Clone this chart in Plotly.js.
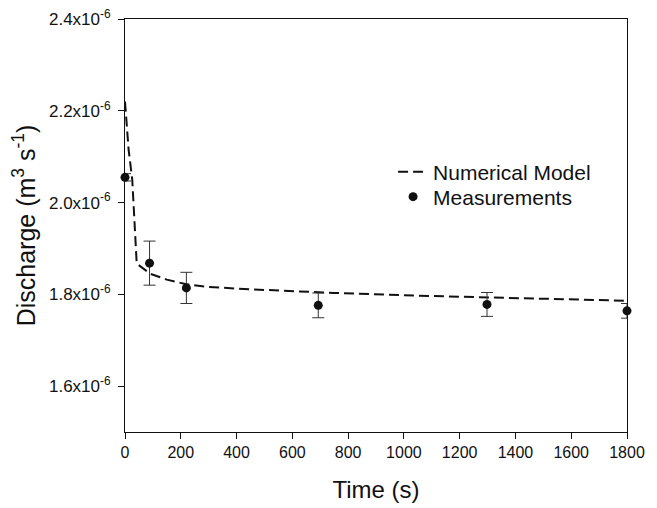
<!DOCTYPE html>
<html>
<head>
<meta charset="utf-8">
<script src="https://cdn.plot.ly/plotly-3.0.1.min.js"></script>
<style>html,body{margin:0;padding:0;background:#fff;}#chart{width:657px;height:508px;}</style>
</head>
<body>
<div id="chart"></div>
<script>
// Numerical model curve (time s, discharge m^3/s)
var modelTime = [0, 13, 26, 42, 90, 150, 220, 300, 450, 750, 1050, 1350, 1800];
var modelQ = [2.220e-6, 2.115e-6, 2.050e-6, 1.867e-6, 1.845e-6, 1.832e-6, 1.822e-6, 1.816e-6, 1.811e-6, 1.803e-6, 1.797e-6, 1.792e-6, 1.786e-6];

// Measurements with error bars
var measTime = [0, 88, 220, 693, 1298, 1800];
var measQ = [2.055e-6, 1.868e-6, 1.814e-6, 1.776e-6, 1.778e-6, 1.764e-6];
var measErr = [0.008e-6, 0.048e-6, 0.034e-6, 0.027e-6, 0.026e-6, 0.016e-6];

// Axis ticks
var xTickVals = [0, 200, 400, 600, 800, 1000, 1200, 1400, 1600, 1800];
var yTickVals = [1.6e-6, 1.8e-6, 2.0e-6, 2.2e-6, 2.4e-6];
var yTickText = ['1.6x10<sup>-6</sup>', '1.8x10<sup>-6</sup>', '2.0x10<sup>-6</sup>', '2.2x10<sup>-6</sup>', '2.4x10<sup>-6</sup>'];

var font = 'Liberation Sans, Arial, sans-serif';

var traces = [
  {
    x: modelTime, y: modelQ, type: 'scatter', mode: 'lines',
    name: 'Numerical Model', legend: 'legend',
    line: {color: '#111', width: 2, dash: '10px,5px'},
    cliponaxis: false
  },
  {
    x: measTime, y: measQ, type: 'scatter', mode: 'markers',
    name: 'Measurements', legend: 'legend2',
    marker: {color: '#111', size: 9},
    error_y: {type: 'data', array: measErr, visible: true, color: '#333', thickness: 1, width: 6},
    cliponaxis: false
  }
];

var legendFont = {family: font, size: 21, color: '#111'};

var layout = {
  width: 657, height: 508,
  margin: {l: 125, r: 30, t: 19, b: 76},
  paper_bgcolor: '#fff', plot_bgcolor: '#fff',
  font: {family: font, color: '#111'},
  showlegend: true,
  legend: {
    x: 0.534, y: 0.6295, xanchor: 'left', yanchor: 'middle',
    font: legendFont, bgcolor: 'rgba(0,0,0,0)', borderwidth: 0
  },
  legend2: {
    x: 0.534, y: 0.569, xanchor: 'left', yanchor: 'middle',
    font: legendFont, bgcolor: 'rgba(0,0,0,0)', borderwidth: 0
  },
  xaxis: {
    range: [0, 1800],
    tickvals: xTickVals,
    ticks: 'outside', ticklen: 6, tickcolor: '#111', tickwidth: 1,
    showline: true, linecolor: '#111', linewidth: 1, mirror: true,
    showgrid: false, zeroline: false,
    tickfont: {family: font, size: 16, color: '#111'},
    title: {text: 'Time (s)', font: {family: font, size: 24, color: '#111'}, standoff: 20}
  },
  yaxis: {
    range: [1.5e-6, 2.4e-6],
    tickvals: yTickVals, ticktext: yTickText,
    ticks: 'outside', ticklen: 6, tickcolor: '#111', tickwidth: 1,
    ticklabelstandoff: 4,
    showline: true, linecolor: '#111', linewidth: 1, mirror: true,
    showgrid: false, zeroline: false,
    tickfont: {family: font, size: 17, color: '#111'},
    title: {text: 'Discharge (m<sup>3</sup> s<sup>-1</sup>)', font: {family: font, size: 25, color: '#111'}, standoff: 6}
  }
};

Plotly.newPlot('chart', traces, layout, {displayModeBar: false, staticPlot: true});
</script>
</body>
</html>
